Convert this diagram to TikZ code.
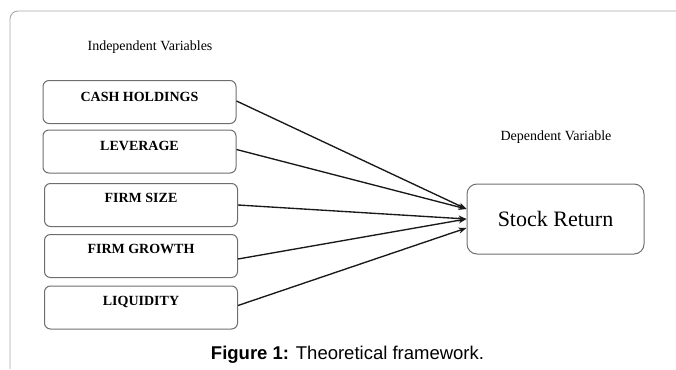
\documentclass[tikz,border=0pt]{standalone}
\usepackage{fontspec}
\setmainfont{Liberation Serif}
\newfontfamily\capfont{Liberation Sans}
\usetikzlibrary{arrows.meta}
\definecolor{framecol}{HTML}{A8A8A8}
\definecolor{boxcol}{HTML}{6E6E6E}
\tikzset{
  varbox/.style={draw=boxcol, line width=1pt, rounded corners=6pt, minimum width=193pt, minimum height=43pt, inner sep=0pt},
  vartext/.style={font=\fontsize{14}{16}\selectfont\bfseries, inner sep=0pt},
  headtext/.style={font=\fontsize{14}{16}\selectfont, inner sep=0pt},
  conn/.style={draw=black!90, line width=1.35pt, -{Stealth[length=8pt,width=6pt]}},
}
\begin{document}
\begin{tikzpicture}[x=1pt,y=-1pt]
\useasboundingbox (0,0) rectangle (676,369);
% outer frame (cropped)
\coordinate (fTR) at (676,11);
\coordinate (fTL) at (10,11);
\coordinate (fBL) at (10,369);
\draw[framecol, line width=0.9pt, rounded corners=8pt] (fTR) -- (fTL) -- (fBL);

\node[headtext] (indep) at (150,47) {Independent Variables};
\node[headtext] (dep) at (556,137) {Dependent Variable};

\node[varbox] (cash) at (139.5,102) {};
\node[vartext] (cashT) at (139.5,97) {CASH HOLDINGS};
\node[varbox] (lev) at (139.5,151.5) {};
\node[vartext] (levT) at (139.5,146) {LEVERAGE};
\node[varbox] (size) at (141,205) {};
\node[vartext] (sizeT) at (141,198) {FIRM SIZE};
\node[varbox] (growth) at (141,256) {};
\node[vartext] (growthT) at (141,249) {FIRM GROWTH};
\node[varbox] (liq) at (141,307.5) {};
\node[vartext] (liqT) at (141,302) {LIQUIDITY};

\node[draw=boxcol, line width=1pt, rounded corners=10pt, minimum width=177pt, minimum height=70pt, inner sep=0pt, font=\fontsize{22}{26}\selectfont] (sr) at (555.5,219) {Stock Return};

\draw[conn] ([yshift=1pt]cash.east) -- ([yshift=10pt]sr.west);
\draw[conn] ([yshift=2pt]lev.east) -- ([yshift=10pt]sr.west);
\draw[conn] (size.east) -- (sr.west);
\draw[conn] ([yshift=-3pt]growth.east) -- (sr.west);
\draw[conn] ([yshift=2pt]liq.east) -- ([yshift=-9pt]sr.west);

\node[font=\capfont\fontsize{18.5}{22}\selectfont, inner sep=0pt] (cap) at (347.5,355) {\textbf{Figure 1:} Theoretical framework.};
\end{tikzpicture}
\end{document}
